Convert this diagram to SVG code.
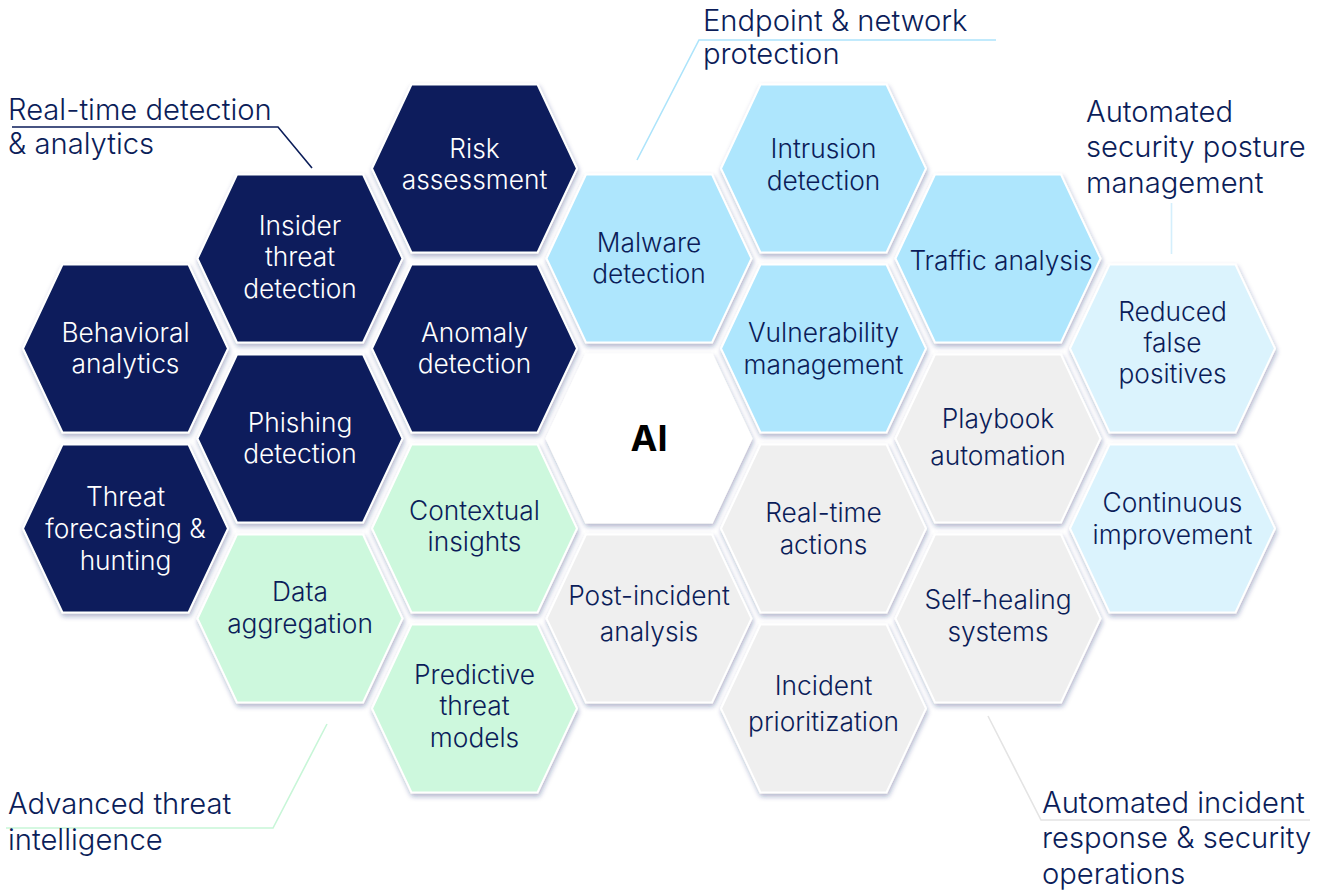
<svg xmlns="http://www.w3.org/2000/svg" xmlns:xlink="http://www.w3.org/1999/xlink" width="1320" height="890" viewBox="0 0 1320 890">
  <style>
    .hex { stroke: #ffffff; stroke-width: 2; filter: url(#hexShadow); }
    .navy { fill: #0b1e5b; }
    .blue { fill: #aee6fd; }
    .green { fill: #cdf8dd; }
    .grey { fill: #efefef; }
    .pale { fill: #dbf3fd; }
    .white { fill: #ffffff; }
    .t { font-family: Inter, "Liberation Sans", sans-serif; font-size: 26.3px; font-weight: 300; text-anchor: middle; fill: #0b1d59; }
    .t.light { fill: #ffffff; }
    .core { font-family: Inter, "Liberation Sans", sans-serif; font-size: 36px; font-weight: 700; text-anchor: middle; fill: #000000; }
    .label { font-family: Inter, "Liberation Sans", sans-serif; font-size: 29.2px; font-weight: 300; fill: #0b1d59; }
    .lead { fill: none; stroke-width: 1.6; }
  </style>
  <defs>
    <filter id="hexShadow" x="-20%" y="-20%" width="140%" height="140%">
      <feDropShadow dx="1" dy="3" stdDeviation="2.5" flood-color="#1b2a6e" flood-opacity="0.35"/>
    </filter>
    <path id="hexShape" d="M-102.5,0 L-63,-84 L63,-84 L102.5,0 L63,84 L-63,84 Z"/>
  </defs>

  <rect width="1320" height="890" fill="#ffffff"/>

  <!-- leader lines from the category captions -->
  <g id="connectors">
    <polyline class="lead" stroke="#0b1d59" points="12,127 278,127 312,168"/>
    <polyline class="lead" stroke="#ade4fb" points="996,40 699,40 637,160"/>
    <line class="lead" stroke="#d4effc" x1="1171.5" y1="203" x2="1171.5" y2="254"/>
    <polyline class="lead" stroke="#c8f6d8" points="6,828 273,828 327,724"/>
    <polyline class="lead" stroke="#e4e4e4" points="988,716 1041,820 1310,820"/>
  </g>

  <!-- category captions -->
  <g id="captions">
    <text class="label" x="8" y="120">Real-time detection</text>
    <text class="label" x="8" y="154">&amp; analytics</text>
    <text class="label" x="703" y="31">Endpoint &amp; network</text>
    <text class="label" x="703" y="64">protection</text>
    <text class="label" x="1086" y="122">Automated</text>
    <text class="label" x="1086" y="157">security posture</text>
    <text class="label" x="1086" y="193">management</text>
    <text class="label" x="8" y="814">Advanced threat</text>
    <text class="label" x="8" y="850">intelligence</text>
    <text class="label" x="1042" y="813">Automated incident</text>
    <text class="label" x="1042" y="848">response &amp; security</text>
    <text class="label" x="1042" y="884">operations</text>
  </g>

  <!-- honeycomb -->
  <g id="behavioral-analytics" transform="translate(125.5,348.5)">
    <use xlink:href="#hexShape" class="hex navy"/>
    <text class="t light" y="-6.5">Behavioral</text>
    <text class="t light" y="24.5">analytics</text>
  </g>
  <g id="threat-forecasting" transform="translate(125.5,528.5)">
    <use xlink:href="#hexShape" class="hex navy"/>
    <text class="t light" y="-22.5">Threat</text>
    <text class="t light" y="9.5">forecasting &amp;</text>
    <text class="t light" y="41.5">hunting</text>
  </g>
  <g id="insider-threat" transform="translate(300,258.5)">
    <use xlink:href="#hexShape" class="hex navy"/>
    <text class="t light" y="-23.5">Insider</text>
    <text class="t light" y="7.5">threat</text>
    <text class="t light" y="39.5">detection</text>
  </g>
  <g id="phishing-detection" transform="translate(300,438.5)">
    <use xlink:href="#hexShape" class="hex navy"/>
    <text class="t light" y="-6.5">Phishing</text>
    <text class="t light" y="24.5">detection</text>
  </g>
  <g id="data-aggregation" transform="translate(300,618.5)">
    <use xlink:href="#hexShape" class="hex green"/>
    <text class="t" y="-17.5">Data</text>
    <text class="t" y="14.5">aggregation</text>
  </g>
  <g id="risk-assessment" transform="translate(474.5,168.5)">
    <use xlink:href="#hexShape" class="hex navy"/>
    <text class="t light" y="-10.5">Risk</text>
    <text class="t light" y="20.5">assessment</text>
  </g>
  <g id="anomaly-detection" transform="translate(474.5,348.5)">
    <use xlink:href="#hexShape" class="hex navy"/>
    <text class="t light" y="-6.5">Anomaly</text>
    <text class="t light" y="24.5">detection</text>
  </g>
  <g id="contextual-insights" transform="translate(474.5,528.5)">
    <use xlink:href="#hexShape" class="hex green"/>
    <text class="t" y="-8.5">Contextual</text>
    <text class="t" y="22.5">insights</text>
  </g>
  <g id="predictive-models" transform="translate(474.5,708.5)">
    <use xlink:href="#hexShape" class="hex green"/>
    <text class="t" y="-24.5">Predictive</text>
    <text class="t" y="6.5">threat</text>
    <text class="t" y="38.5">models</text>
  </g>
  <g id="malware-detection" transform="translate(649,258.5)">
    <use xlink:href="#hexShape" class="hex blue"/>
    <text class="t" y="-6.5">Malware</text>
    <text class="t" y="24.5">detection</text>
  </g>
  <g id="ai-core" transform="translate(649,438.5)">
    <use xlink:href="#hexShape" class="hex white"/>
    <text class="core" y="12.5">AI</text>
  </g>
  <g id="post-incident" transform="translate(649,618.5)">
    <use xlink:href="#hexShape" class="hex grey"/>
    <text class="t" y="-13.5">Post-incident</text>
    <text class="t" y="22.5">analysis</text>
  </g>
  <g id="intrusion-detection" transform="translate(823.5,168.5)">
    <use xlink:href="#hexShape" class="hex blue"/>
    <text class="t" y="-10.5">Intrusion</text>
    <text class="t" y="21.5">detection</text>
  </g>
  <g id="vulnerability-management" transform="translate(823.5,348.5)">
    <use xlink:href="#hexShape" class="hex blue"/>
    <text class="t" y="-6.5">Vulnerability</text>
    <text class="t" y="25.5">management</text>
  </g>
  <g id="real-time-actions" transform="translate(823.5,528.5)">
    <use xlink:href="#hexShape" class="hex grey"/>
    <text class="t" y="-6.5">Real-time</text>
    <text class="t" y="25.5">actions</text>
  </g>
  <g id="incident-prioritization" transform="translate(823.5,708.5)">
    <use xlink:href="#hexShape" class="hex grey"/>
    <text class="t" y="-13.5">Incident</text>
    <text class="t" y="22.5">prioritization</text>
  </g>
  <g id="traffic-analysis" transform="translate(998,258.5)">
    <use xlink:href="#hexShape" class="hex blue"/>
    <text class="t" x="3" y="11.5">Traffic analysis</text>
  </g>
  <g id="playbook-automation" transform="translate(998,438.5)">
    <use xlink:href="#hexShape" class="hex grey"/>
    <text class="t" y="-10.5">Playbook</text>
    <text class="t" y="26.5">automation</text>
  </g>
  <g id="self-healing" transform="translate(998,618.5)">
    <use xlink:href="#hexShape" class="hex grey"/>
    <text class="t" y="-9.5">Self-healing</text>
    <text class="t" y="22.5">systems</text>
  </g>
  <g id="reduced-false-positives" transform="translate(1172.5,348.5)">
    <use xlink:href="#hexShape" class="hex pale"/>
    <text class="t" y="-28">Reduced</text>
    <text class="t" y="3">false</text>
    <text class="t" y="34.5">positives</text>
  </g>
  <g id="continuous-improvement" transform="translate(1172.5,528.5)">
    <use xlink:href="#hexShape" class="hex pale"/>
    <text class="t" y="-16.5">Continuous</text>
    <text class="t" y="15.5">improvement</text>
  </g>
</svg>
